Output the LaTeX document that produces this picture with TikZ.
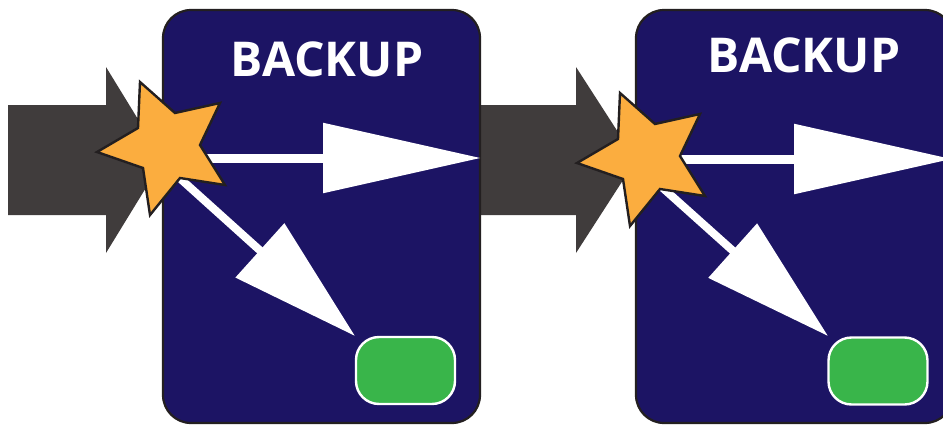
\documentclass[tikz,border=0pt]{standalone}
\usepackage{fontspec}
\setmainfont{Open Sans}
\usetikzlibrary{arrows.meta}
\definecolor{navy}{RGB}{28,20,100}
\definecolor{darkarrow}{RGB}{64,60,60}
\definecolor{starfill}{RGB}{251,173,63}
\definecolor{outline}{RGB}{35,31,32}
\definecolor{greenbox}{RGB}{57,181,74}
\tikzset{
  backupbox/.style={draw=outline, fill=navy, line width=2.2pt, rounded corners=28pt,
    minimum width=317pt, minimum height=413pt, inner sep=0pt},
  greenkey/.style={draw=white, fill=greenbox, line width=2.4pt, rounded corners=23pt,
    minimum width=99pt, minimum height=67pt, inner sep=0pt},
  title/.style={text=white, font=\bfseries\fontsize{48}{48}\selectfont, inner sep=0pt},
  bigarrow/.style={fill=darkarrow},
  starshape/.style={fill=starfill, draw=outline, line width=2.4pt, line join=miter},
  hflow/.style={draw=white, line width=9pt, -{Triangle[length=158pt,width=68pt]}},
  dflow/.style={draw=white, line width=8pt, -{Triangle[length=128pt,width=71pt]}},
}
\begin{document}
\begin{tikzpicture}[x=1pt,y=-1pt]
\useasboundingbox (0,0) rectangle (943,426);
\clip (0,0) rectangle (943,426);
% dark arrows
\fill[bigarrow] (8,105) -- (106,105) -- (106,67) -- (163,160) -- (106,253) -- (106,215) -- (8,215) -- cycle;
\fill[bigarrow] (470,105) -- (576,105) -- (576,67) -- (636,160) -- (576,253) -- (576,215) -- (470,215) -- cycle;
% boxes
\node[backupbox] (b1) at (321.5,216.5) {};
\node[backupbox] (b2) at (794.5,216.5) {};
\node[title] (t1) at (327,59.5) {BACKUP};
\node[title] (t2) at (804,55.5) {BACKUP};
% green keys
\node[greenkey] (g1) at (405.5,370.5) {};
\node[greenkey] (g2) at (878,371) {};
% connector coordinates
\coordinate (s1h) at (180,158);
\coordinate (e1h) at (481,158);
\coordinate (s1d) at (174,173);
\coordinate (e1d) at (355,336);
\coordinate (s2h) at (660,159);
\coordinate (e2h) at (952,159);
\coordinate (s2d) at (655,181);
\coordinate (e2d) at (828,336);
\draw[hflow] (s1h) -- (e1h);
\draw[dflow] (s1d) -- (e1d);
\draw[hflow] (s2h) -- (e2h);
\draw[dflow] (s2d) -- (e2d);
% stars
\draw[starshape] (140,82) -- (175,113) -- (220,103) -- (200,145) -- (225,185) -- (180,178) -- (150,215) -- (143,168) -- (97,152) -- (138,128) -- cycle;
\begin{scope}[shift={(480,11)}]
\draw[starshape] (140,82) -- (175,113) -- (220,103) -- (200,145) -- (225,185) -- (180,178) -- (150,215) -- (143,168) -- (97,152) -- (138,128) -- cycle;
\end{scope}
\end{tikzpicture}
\end{document}
